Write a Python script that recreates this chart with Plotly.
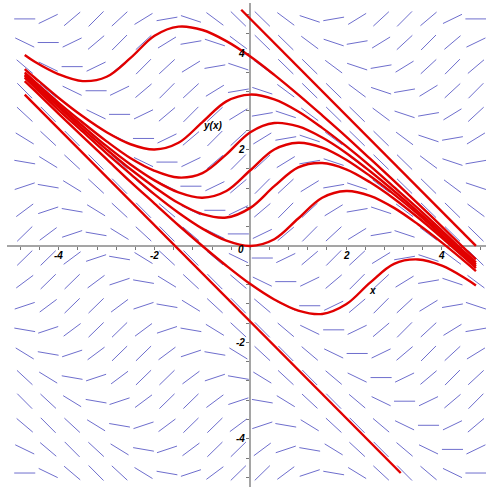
import plotly.graph_objects as go

# direction field grid (20 x 20) and slopes read along the diagonals (index = col + row)
field_x = [-4.71, -4.22, -3.72, -3.22, -2.73, -2.23, -1.74, -1.24, -0.74, -0.25,
           0.25, 0.74, 1.24, 1.74, 2.23, 2.73, 3.22, 3.72, 4.22, 4.71]
field_y = [-4.71, -4.22, -3.72, -3.22, -2.73, -2.23, -1.74, -1.24, -0.74, -0.25,
           0.25, 0.74, 1.24, 1.74, 2.23, 2.73, 3.22, 3.72, 4.22, 4.71]
diag_slopes = [0.0, -0.48, -0.84, -1.0, -0.92, -0.61, -0.17, 0.33, 0.74, 0.97,
               0.97, 0.74, 0.33, -0.17, -0.61, -0.92, -1.0, -0.84, -0.48, 0.0,
               0.48, 0.84, 1.0, 0.92, 0.61, 0.17, -0.33, -0.74, -0.97, -0.97,
               -0.74, -0.33, 0.17, 0.61, 0.92, 1.0, 0.84, 0.48, 0.0]

# solution curves, sampled at these x values
curve_x = [-4.71, -4.5, -4, -3.5, -3, -2.5, -2, -1.5, -1, -0.5, 0,
           0.5, 1, 1.5, 2, 2.5, 3, 3.5, 4, 4.5, 4.71]
curves = [
    [3.42, 3.22, 2.74, 2.27, 1.80, 1.33, 0.88, 0.43, 0.00, -0.41, -0.79,
     -1.11, -1.34, -1.41, -1.21, -0.76, -0.37, -0.28, -0.41, -0.68, -0.82],
    [3.49, 3.29, 2.82, 2.37, 1.92, 1.49, 1.07, 0.69, 0.36, 0.11, 0.0,
     0.14, 0.57, 1.0, 1.14, 1.04, 0.79, 0.45, 0.07, -0.34, -0.52],
    [3.53, 3.33, 2.88, 2.43, 2.0, 1.59, 1.22, 0.89, 0.66, 0.59, 0.79,
     1.24, 1.63, 1.72, 1.59, 1.32, 0.98, 0.59, 0.17, -0.27, -0.46],
    [3.56, 3.37, 2.92, 2.49, 2.07, 1.69, 1.36, 1.11, 1.0, 1.14, 1.57,
     2.0, 2.14, 2.04, 1.79, 1.45, 1.07, 0.66, 0.22, -0.23, -0.42],
    [3.60, 3.41, 2.97, 2.56, 2.17, 1.82, 1.56, 1.42, 1.51, 1.90, 2.36,
     2.55, 2.48, 2.25, 1.93, 1.55, 1.14, 0.71, 0.27, -0.19, -0.38],
    [3.67, 3.49, 3.07, 2.69, 2.36, 2.11, 2.0, 2.14, 2.57, 3.0, 3.14,
     3.04, 2.79, 2.45, 2.07, 1.66, 1.22, 0.78, 0.32, -0.15, -0.34],
    [3.96, 3.82, 3.56, 3.42, 3.51, 3.90, 4.36, 4.55, 4.48, 4.25, 3.93,
     3.55, 3.14, 2.71, 2.27, 1.81, 1.35, 0.88, 0.40, -0.08, -0.28],
]
line_top_x = [-0.19, 4.71]
line_top_y = [4.90, 0.0]
line_low_x = [-4.71, 3.14]
line_low_y = [3.14, -4.71]

x_labels = [-4, -2, 2, 4]
y_labels = [-4, -2, 2, 4]

x_range = [-5.08, 4.92]
y_range = [-5.0, 5.04]

fig = go.Figure()

# direction field segments
half = 0.22
sx, sy = [], []
for i, x0 in enumerate(field_x):
    for j, y0 in enumerate(field_y):
        m = diag_slopes[i + j]
        n = (1 + m * m) ** 0.5
        dx, dy = half / n, half * m / n
        sx += [x0 - dx, x0 + dx, None]
        sy += [y0 - dy, y0 + dy, None]
fig.add_trace(go.Scatter(x=sx, y=sy, mode="lines",
                         line=dict(color="rgb(110,110,205)", width=1),
                         hoverinfo="skip"))

red = "rgb(225,0,0)"
for cy in curves:
    fig.add_trace(go.Scatter(x=curve_x, y=cy, mode="lines",
                             line=dict(color=red, width=2.4, shape="spline")))
fig.add_trace(go.Scatter(x=line_top_x, y=line_top_y, mode="lines",
                         line=dict(color=red, width=2.4)))
fig.add_trace(go.Scatter(x=line_low_x, y=line_low_y, mode="lines",
                         line=dict(color=red, width=2.4)))

lab_font = dict(family="Liberation Sans, Arial", size=10, color="black",
                weight="bold", style="italic")
ann = []
for v in x_labels:
    ann.append(dict(x=v, y=0, text=str(v), showarrow=False, yshift=-10,
                    font=lab_font))
for v in y_labels:
    ann.append(dict(x=0, y=v, text=str(v), showarrow=False, xanchor="right",
                    xshift=-3, font=lab_font))
ann.append(dict(x=0, y=0, text="0", showarrow=False, xanchor="right",
                xshift=-4, yshift=-4, font=lab_font))
ann.append(dict(x=-0.79, y=2.49, text="y(x)", showarrow=False, font=lab_font))
ann.append(dict(x=2.54, y=-0.93, text="x", showarrow=False, font=lab_font))

axis_common = dict(showgrid=False, zeroline=False, showticklabels=False,
                   showline=True, linecolor="rgb(165,165,165)", linewidth=2,
                   ticks="outside", ticklen=3, tickwidth=1,
                   tickcolor="rgb(120,120,120)", tick0=0, dtick=0.4,
                   anchor="free", layer="below traces")
fig.update_layout(
    width=488, height=487,
    margin=dict(l=7, r=2, t=3, b=0),
    plot_bgcolor="white", paper_bgcolor="white",
    showlegend=False,
    xaxis=dict(range=x_range, position=(0 - y_range[0]) / (y_range[1] - y_range[0]),
               **axis_common),
    yaxis=dict(range=y_range, position=(0 - x_range[0]) / (x_range[1] - x_range[0]),
               **axis_common),
    annotations=ann,
)

# the page's default body margin would push the chart 8px in
fig.write_html("out.html", config={"displayModeBar": False},
               post_script="document.body.style.margin='0';")
